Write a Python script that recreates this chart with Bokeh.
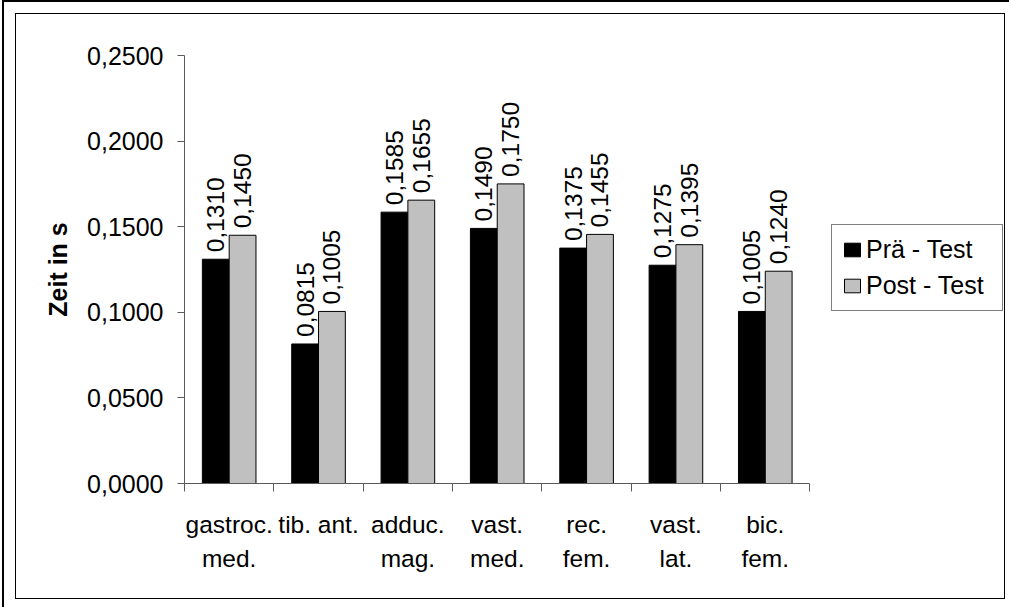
import math
from bokeh.plotting import figure
from bokeh.models import (ColumnDataSource, Range1d, FixedTicker, LinearAxis,
                          Legend, LegendItem)
from bokeh.core.properties import value
from bokeh.transform import dodge
from bokeh.embed import file_html
from bokeh.resources import INLINE

categories_line1 = ["gastroc.", "tib. ant.", "adduc.", "vast.", "rec.", "vast.", "bic."]
categories_line2 = ["med.", "", "mag.", "med.", "fem.", "lat.", "fem."]
pre_test = [0.1310, 0.0815, 0.1585, 0.1490, 0.1375, 0.1275, 0.1005]
post_test = [0.1450, 0.1005, 0.1655, 0.1750, 0.1455, 0.1395, 0.1240]
y_ticks = [0.0, 0.05, 0.10, 0.15, 0.20, 0.25]
series_names = ["Prä - Test", "Post - Test"]
y_title = "Zeit in s"

FONT = "Liberation Sans"
FS = "24.5px"


def de_fmt(v):
    return f"{v:.4f}".replace(".", ",")


n = len(categories_line1)
src = ColumnDataSource(data=dict(
    x=[i + 0.5 for i in range(n)],
    pre=pre_test,
    post=post_test,
    pre_lbl=[de_fmt(v) for v in pre_test],
    post_lbl=[de_fmt(v) for v in post_test],
))

# canvas placement (page origin at 0,0)
CL, CT = 17, 15          # canvas left / top inside the 1px border
W, H = 990, 586
FL, FT, FB = 185, 56, 484  # frame left / top / bottom
MBR = 2
frame_w = CL + W - MBR - FL
cat_px = 89.35
x_max = frame_w / cat_px

p = figure(width=W, height=H, output_backend="svg", toolbar_location=None,
           x_range=Range1d(0, x_max), y_range=Range1d(0, 0.25),
           min_border_left=FL - CL, min_border_top=FT - CT,
           min_border_bottom=CT + H - FB, min_border_right=MBR,
           x_axis_type=None, y_axis_type=None)
p.styles = {"border": "1px solid black", "margin-left": "15px", "margin-top": "13px",
            "outline": "2px solid black", "outline-offset": "11px"}
p.outline_line_color = None
p.xgrid.visible = False
p.ygrid.visible = False
p.background_fill_color = "white"
p.border_fill_color = "white"

AX = "#5a5a5a"

# y axis
yax = LinearAxis(ticker=FixedTicker(ticks=y_ticks, minor_ticks=[]))
yax.major_label_overrides = {t: de_fmt(t) for t in y_ticks}
yax.axis_line_color = AX
yax.major_tick_line_color = AX
yax.major_tick_out = 7
yax.major_tick_in = 0
yax.minor_tick_line_color = None
yax.major_label_standoff = 14
yax.major_label_text_font = FONT
yax.major_label_text_font_size = "25px"
yax.major_label_text_color = "black"
yax.axis_label = y_title
yax.axis_label_text_font = FONT
yax.axis_label_text_font_size = "25px"
yax.axis_label_text_font_style = "bold"
yax.axis_label_text_color = "black"
yax.axis_label_standoff = 12
p.add_layout(yax, "left")

centers = [i + 0.5 for i in range(n)]
bounds = [float(i) for i in range(n + 1)]

# x axis, first label line, ticks at category boundaries
xax = LinearAxis(ticker=FixedTicker(ticks=centers, minor_ticks=bounds), bounds=(0, n))
xax.major_label_overrides = {c: t for c, t in zip(centers, categories_line1)}
xax.axis_line_color = AX
xax.major_tick_line_color = None
xax.major_tick_out = 0
xax.major_tick_in = 0
xax.minor_tick_line_color = AX
xax.minor_tick_out = 8
xax.minor_tick_in = 0
xax.major_label_standoff = 19
xax.major_label_text_font = FONT
xax.major_label_text_font_size = FS
xax.major_label_text_color = "black"
p.add_layout(xax, "below")

# x axis, second label line
xax2 = LinearAxis(ticker=FixedTicker(ticks=centers, minor_ticks=[]), bounds=(0, n))
xax2.major_label_overrides = {c: t for c, t in zip(centers, categories_line2)}
xax2.axis_line_color = None
xax2.major_tick_line_color = None
xax2.minor_tick_line_color = None
xax2.major_tick_out = 0
xax2.major_tick_in = 0
xax2.major_label_standoff = 4
xax2.major_label_text_font = FONT
xax2.major_label_text_font_size = FS
xax2.major_label_text_color = "black"
p.add_layout(xax2, "below")

r_pre = p.vbar(x=dodge("x", -0.15, range=p.x_range), top="pre", width=0.3,
               source=src, fill_color="black", line_color="black", line_width=1)
r_post = p.vbar(x=dodge("x", 0.15, range=p.x_range), top="post", width=0.3,
                source=src, fill_color="#C0C0C0", line_color="black", line_width=1)

for off, col, lbl in [(-0.15, "pre", "pre_lbl"), (0.15, "post", "post_lbl")]:
    p.text(x=dodge("x", off, range=p.x_range), y=col, text=lbl, source=src,
           angle=math.pi / 2, text_align="left", text_baseline="middle",
           y_offset=-7, text_font=value(FONT), text_font_size=FS,
           text_color="black")

legend = Legend(items=[LegendItem(label=series_names[0], renderers=[r_pre]),
                       LegendItem(label=series_names[1], renderers=[r_post])],
                location=(832 - FL, FB - 312), margin=0, padding=10, spacing=7,
                label_height=25, label_width=126, glyph_height=17, glyph_width=20,
                label_standoff=4, border_line_color="black", border_line_width=1,
                label_text_font=FONT, label_text_font_size="25px",
                label_text_color="black", background_fill_color="white",
                background_fill_alpha=1.0)
p.add_layout(legend, "center")

open("out.html", "w").write(file_html(p, INLINE))
